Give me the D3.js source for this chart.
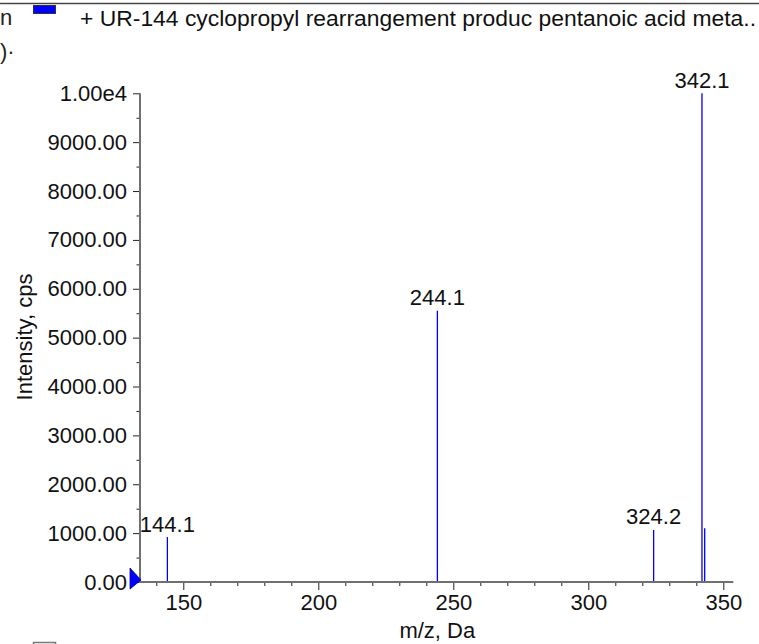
<!DOCTYPE html>
<html><head><meta charset="utf-8">
<script src="https://cdn.jsdelivr.net/npm/d3@7"></script>
<style>
html,body{margin:0;padding:0;background:#fff;}
svg{display:block;font-family:Arial,"Liberation Sans",sans-serif;}
</style></head>
<body><svg id="c" width="759" height="644"></svg>
<script>
const mz = [144.1, 244.1, 324.2, 342.1, 343.1];
const intensity = [920, 5550, 1065, 10000, 1100];
const peakLabels = ["144.1", "244.1", "324.2", "342.1", ""];
const xMajorTicks = [150, 200, 250, 300, 350];
const xMinorTicks = [140,160,170,180,190,210,220,230,240,260,270,280,290,310,320,330,340];
const yMajorTicks = [0,1000,2000,3000,4000,5000,6000,7000,8000,9000,10000];
const yTickLabels = ["0.00","1000.00","2000.00","3000.00","4000.00","5000.00","6000.00","7000.00","8000.00","9000.00","1.00e4"];
const yMinorTicks = [500,1500,2500,3500,4500,5500,6500,7500,8500,9500];
const legendText = "+ UR-144 cyclopropyl rearrangement produc pentanoic acid meta..";
const xTitle = "m/z, Da";
const yTitle = "Intensity, cps";

const svg = d3.select("#c");
const FS = 22;
const FF = "Arial,'Liberation Sans',sans-serif";
const x = d3.scaleLinear().domain([133.96, 353.7]).range([140, 733.3]);
const y = d3.scaleLinear().domain([0, 10000]).range([582, 93.3]);

// top border & legend
svg.append("line").attr("x1",0).attr("x2",759).attr("y1",3.5).attr("y2",3.5).attr("stroke","#444").attr("stroke-width",1.5);
svg.append("text").attr("x",0).attr("y",25).attr("font-size",FS).attr("fill","#222").text("n");
svg.append("text").attr("x",0).attr("y",59).attr("font-size",FS).attr("fill","#222").text(")·");
svg.append("rect").attr("x",33.5).attr("y",5.5).attr("width",22).attr("height",8).attr("fill","#0000ff").attr("stroke","#333").attr("stroke-width",1);
svg.append("text").attr("x",80).attr("y",26).attr("font-size",FS).attr("fill","#111")
  .attr("textLength",676).attr("lengthAdjust","spacingAndGlyphs").text(legendText);
svg.append("rect").attr("x",33.5).attr("y",642.5).attr("width",22).attr("height",8).attr("fill","#fff").attr("stroke","#777").attr("stroke-width",1.5);

// Y axis
const yAxis = d3.axisLeft(y).tickValues(yMajorTicks).tickSize(7).tickPadding(6)
  .tickFormat((d,i)=>yTickLabels[i]);
const gy = svg.append("g").attr("transform","translate(140,0)").call(yAxis);
gy.select(".domain").remove();
gy.selectAll(".tick line").attr("stroke","#222");
gy.selectAll(".tick text").attr("font-size",FS).attr("font-family",FF).attr("fill","#111");
const gym = svg.append("g").attr("transform","translate(140,0)")
  .call(d3.axisLeft(y).tickValues(yMinorTicks).tickSize(3.5).tickFormat(""));
gym.select(".domain").remove();
gym.selectAll(".tick line").attr("stroke","#222");

// X axis
const xAxis = d3.axisBottom(x).tickValues(xMajorTicks).tickSize(8).tickPadding(4).tickFormat(d3.format("d"));
const gx = svg.append("g").attr("transform","translate(0,582)").call(xAxis);
gx.select(".domain").remove();
gx.selectAll(".tick line").attr("stroke","#222");
gx.selectAll(".tick text").attr("font-size",FS).attr("font-family",FF).attr("fill","#111");
const gxm = svg.append("g").attr("transform","translate(0,582)")
  .call(d3.axisBottom(x).tickValues(xMinorTicks).tickSize(4).tickFormat(""));
gxm.select(".domain").remove();
gxm.selectAll(".tick line").attr("stroke","#222");

// axis lines
svg.append("line").attr("x1",140).attr("x2",140).attr("y1",y(10000)).attr("y2",583).attr("stroke","#707070").attr("stroke-width",2);
svg.append("line").attr("x1",139).attr("x2",x.range()[1]).attr("y1",582).attr("y2",582).attr("stroke","#707070").attr("stroke-width",2);

// peaks
const peaks = mz.map((m,i)=>({m, v:intensity[i], label:peakLabels[i]}));
svg.append("g").selectAll("line").data(peaks).join("line")
  .attr("x1",d=>x(d.m)).attr("x2",d=>x(d.m))
  .attr("y1",y(0)-1).attr("y2",d=>y(d.v))
  .attr("stroke","#0000ff").attr("stroke-width",1.3);
svg.append("g").selectAll("text").data(peaks.filter(d=>d.label)).join("text")
  .attr("x",d=>x(d.m)).attr("y",d=>y(d.v)-5.5)
  .attr("text-anchor","middle").attr("font-size",FS).attr("fill","#111")
  .text(d=>d.label);

// marker triangle
svg.append("path").attr("d","M130,568 L141,580 L130,589 Z").attr("fill","#0000ff").attr("stroke","#00008b").attr("stroke-width",0.8);

// titles
svg.append("text").attr("x",x(250)-16).attr("y",638).attr("text-anchor","middle").attr("font-size",FS).attr("fill","#111").text(xTitle);
svg.append("text").attr("transform","translate(32,337) rotate(-90)").attr("text-anchor","middle").attr("font-size",FS).attr("fill","#111").text(yTitle);
</script></body></html>
